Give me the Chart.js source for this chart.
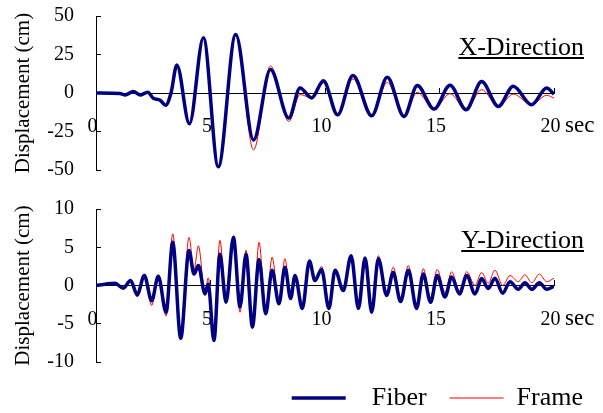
<!DOCTYPE html>
<html>
<head>
<meta charset="utf-8">
<script src="https://cdn.jsdelivr.net/npm/chart.js@4/dist/chart.umd.min.js"></script>
<style>
  html, body { margin: 0; padding: 0; background: #fff; overflow: hidden; }
  .box { position: absolute; left: 0; }
</style>
</head>
<body>
<div class="box" style="top:0"><canvas id="chartX" width="603" height="195"></canvas></div>
<div class="box" style="top:190px"><canvas id="chartY" width="610" height="231"></canvas></div>
<script>
// X-direction: time (sec) and displacement (cm) at the turning points
const timeX = [0, 1.05, 1.27, 1.63, 1.92, 2.26, 2.5, 2.8, 3.04, 3.28, 3.53, 4.08, 4.69, 5.34, 6.1, 6.88,
  7.62, 8.42, 8.91, 9.42, 9.93, 10.55, 11.22, 12.04, 12.72, 13.45, 14.03, 14.76, 15.46, 16.16, 16.84,
  17.57, 18.22, 19.02, 19.68, 20];
const fiberX = [0, -0.3, -1.3, 1.0, -1.3, 0.5, -3.4, -4.7, -8, 0.3, 18.2, -20, 35.9, -47.9, 38, -30.5,
  15.2, -16.3, 3.3, -3.2, 8, -14.2, 11.4, -14.8, 10.2, -15.2, 4.8, -10.4, 5, -10.9, 7.4,
  -8.7, 4.4, -7.6, 3.3, -0.7];
const frameX = [0, -0.3, -1.3, 1.0, -1.3, 0.5, -3.4, -4.7, -8, 0.3, 18.2, -20, 35.9, -47.9, 38, -37,
  17.6, -18.5, -1.0, -3.2, 6.5, -14.2, 9.1, -14.8, 6.9, -15.2, 0.4, -10.4, -0.4, -10.9, 2.2,
  -8.7, -0.7, -7.6, -1.5, -3.3];

// Y-direction
const timeY = [0, 0.45, 0.83, 1.19, 1.51, 1.8, 2.11, 2.43, 2.72, 3.06, 3.35, 3.7, 4.06, 4.28, 4.47, 4.76,
  4.9, 5.15, 5.41, 5.68, 6.0, 6.29, 6.55, 6.83, 7.12, 7.41, 7.69, 7.99, 8.25, 8.5, 8.69, 9.01, 9.32,
  9.56, 9.85, 10.17, 10.44, 10.8, 11.14, 11.46, 11.75, 12.04, 12.33, 12.69, 12.98, 13.3, 13.64, 14.0,
  14.29, 14.61, 14.9, 15.24, 15.53, 15.87, 16.19, 16.55, 16.84, 17.13, 17.42, 17.76, 18.08, 18.44,
  18.73, 19.03, 19.36, 19.68, 20];
const fiberY = [0, 0.2, 0.3, -0.35, 0.65, -1.2, 1.3, -2.0, 1.2, -3.5, 5.65, -6.9, 4.57, 1.5, 2.6, -1.1,
  0.2, -7.2, 4.1, -2.2, 6.3, -2.8, 4.1, -5.4, 3.4, -3.7, 2.0, -2.4, 2.4, -1.7, 1.3, -3.0, 3.2,
  0.65, 2.1, -3.0, 2.0, -0.65, 3.9, -3.0, 3.6, -3.5, 3.5, -1.3, 1.7, -2.1, 2.0, -3.0,
  1.5, -2.2, 1.3, -1.5, 1.1, -1.1, 1.3, -1.1, 0.9, -0.4, 0.95, -1.0, 0.5, -0.5,
  0.35, -0.5, 0.35, -0.5, -0.1];
const frameY = [0, 0.2, 0.3, -0.35, 0.65, -1.5, 1.5, -2.6, 1.4, -4.0, 6.75, -6.9, 6.3, 2.0, 5.2, -1.0,
  1.0, -5.9, 5.9, -2.0, 6.3, -3.5, 4.6, -5.7, 5.65, -3.7, 3.7, -2.4, 3.5, -1.7, 1.5, -3.0, 3.2,
  0.8, 2.5, -3.0, 2.0, -0.65, 3.9, -3.0, 3.6, -3.5, 3.9, -1.1, 2.4, -1.8, 2.6, -2.6,
  2.2, -1.6, 2.1, -0.9, 1.8, -0.65, 1.8, 0, 1.7, 0.3, 2.0, 0, 1.3, 0.5,
  1.4, 0.35, 1.5, 0.5, 0.95];

// axis ranges / tick steps
const timeTicks = [0, 20, 5];
const yTicksX = [-50, 50, 25];
const yTicksY = [-10, 10, 5];

Chart.defaults.font.family = "'Liberation Serif', 'Times New Roman', serif";
Chart.defaults.color = '#000';

function toPoints(t, v) {
  return t.map((x, i) => ({ x: x, y: v[i] }));
}

// underlined direction name and the "sec" unit after the last time tick
function directionLabel(name) {
  return {
    id: 'directionLabel',
    afterDraw(chart) {
      const { ctx, chartArea, scales } = chart;
      ctx.save();
      ctx.fillStyle = '#000';
      ctx.font = "26px 'Liberation Serif'";
      ctx.textAlign = 'right';
      ctx.textBaseline = 'alphabetic';
      const xr = chartArea.right + 30, yb = chartArea.top + 39;
      ctx.fillText(name, xr, yb);
      const w = ctx.measureText(name).width;
      ctx.fillRect(xr - w, yb + 2, w, 2);
      ctx.font = "23px 'Liberation Serif'";
      ctx.textAlign = 'left';
      ctx.fillText('sec', scales.x.getPixelForValue(timeTicks[1]) + 11, scales.y.getPixelForValue(0) + 39);
      ctx.restore();
    }
  };
}

// keep tick labels from pushing the plot area around
function noPad(s) {
  s.paddingTop = 0; s.paddingBottom = 0; s.paddingLeft = 0; s.paddingRight = 0;
}

function makeChart(id, o) {
  return new Chart(document.getElementById(id), {
    type: 'line',
    data: {
      datasets: [
        { label: 'Fiber', data: toPoints(o.time, o.fiber), borderColor: '#000080', borderWidth: 3.5, yAxisID: 'y' },
        { label: 'Frame', data: toPoints(o.time, o.frame), borderColor: '#ff0000', borderWidth: 1, yAxisID: 'y' }
      ]
    },
    options: {
      responsive: false,
      animation: false,
      events: [],
      layout: { padding: o.padding },
      elements: {
        point: { radius: 0 },
        line: { cubicInterpolationMode: 'monotone', fill: false }
      },
      scales: {
        x: {
          type: 'linear',
          position: { y: 0 },
          min: timeTicks[0], max: timeTicks[1],
          ticks: { stepSize: timeTicks[2], padding: 28, labelOffset: -3.5, maxRotation: 0, autoSkip: false, font: { size: 20 } },
          grid: { drawOnChartArea: false, tickLength: -6, color: '#000' },
          border: { color: '#000', width: 1 },
          afterFit: s => { s.height = 0; noPad(s); }
        },
        y: {
          position: 'left',
          min: o.ticks[0], max: o.ticks[1],
          ticks: { stepSize: o.ticks[2], padding: 27, font: { size: 20 } },
          grid: { drawOnChartArea: false, tickLength: -5, color: '#000' },
          border: { color: '#000', width: 1 },
          title: { display: true, text: 'Displacement (cm)', font: { size: 21 }, padding: { top: 11, bottom: 0 } },
          afterFit: s => { s.width = 96; noPad(s); }
        },
        yr: {
          position: 'right',
          grid: { display: false },
          border: { display: false },
          ticks: { display: false },
          afterFit: s => { s.width = o.rightGap; noPad(s); }
        }
      },
      plugins: {
        tooltip: { enabled: false },
        legend: {
          display: o.legend,
          position: 'bottom',
          align: 'end',
          labels: {
            usePointStyle: true,
            pointStyle: 'line',
            pointStyleWidth: 54,
            padding: 23,
            color: '#000',
            font: { size: 26 },
            generateLabels: chart => Chart.defaults.plugins.legend.labels.generateLabels(chart)
              .map((it, i) => Object.assign(it, { text: i === 0 ? '  ' + it.text : it.text }))
          }
        }
      }
    },
    plugins: [directionLabel(o.name)]
  });
}

makeChart('chartX', {
  time: timeX, fiber: fiberX, frame: frameX, ticks: yTicksX, name: 'X-Direction',
  legend: false, rightGap: 37, padding: { top: 16, bottom: 25, left: 0, right: 12 }
});
makeChart('chartY', {
  time: timeY, fiber: fiberY, frame: frameY, ticks: yTicksY, name: 'Y-Direction',
  legend: true, rightGap: 52, padding: { top: 19, bottom: 0, left: 0, right: 4 }
});
</script>
</body>
</html>
